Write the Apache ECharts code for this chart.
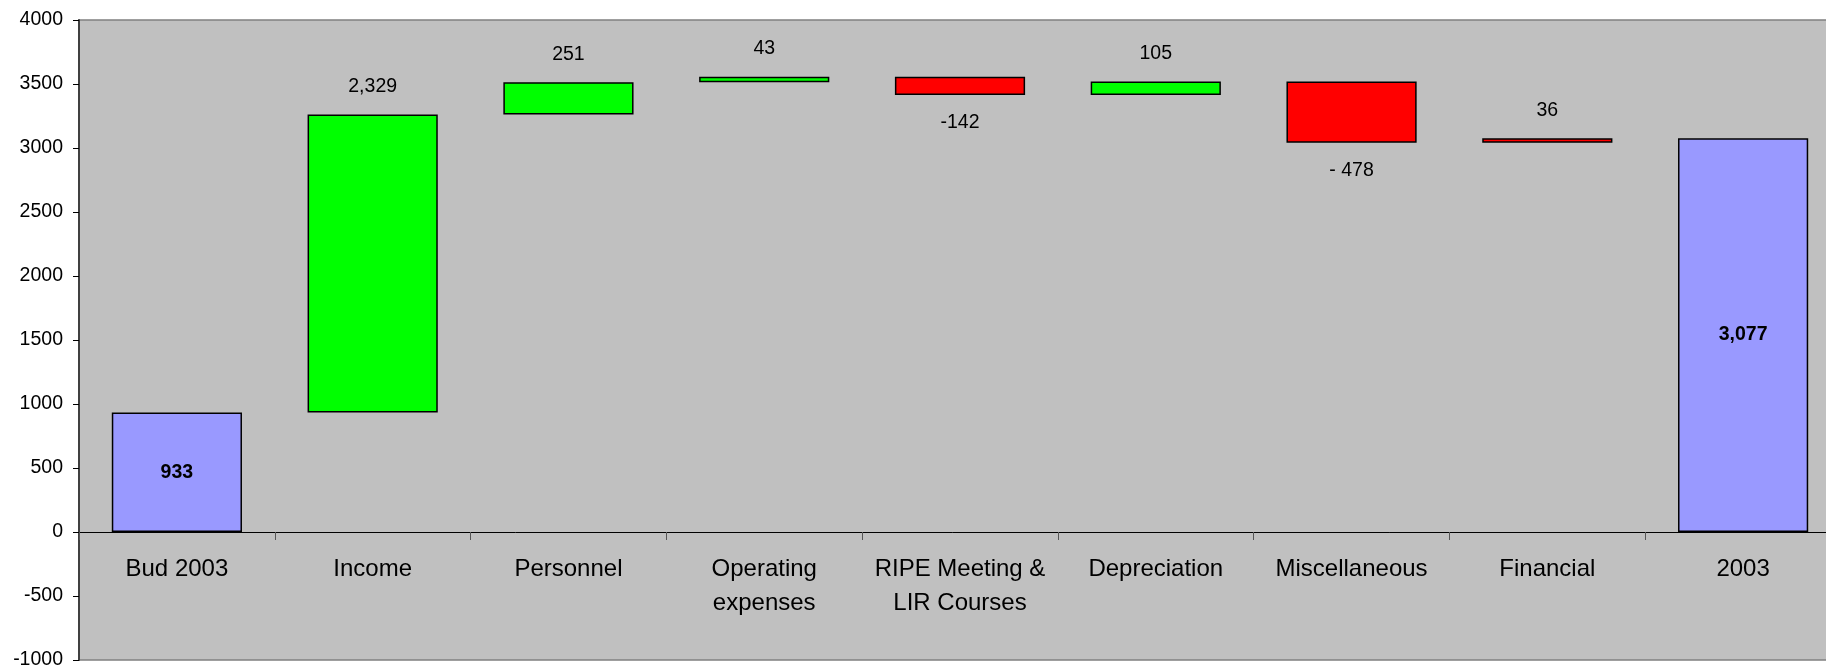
<!DOCTYPE html>
<html>
<head>
<meta charset="utf-8">
<script src="https://cdn.jsdelivr.net/npm/echarts@6/dist/echarts.min.js"></script>
<style>
  html, body { margin: 0; padding: 0; background: #ffffff; }
  #chart { width: 1826px; height: 665px; }
</style>
</head>
<body>
<div id="chart"></div>
<script>
// ---- data ----
const categories = ['Bud 2003', 'Income', 'Personnel', 'Operating\nexpenses', 'RIPE Meeting &\nLIR Courses', 'Depreciation', 'Miscellaneous', 'Financial', '2003'];
const deltas = [933, 2329, 251, 43, -142, 105, -478, 36, 3077];
const kinds = ['total', 'gain', 'gain', 'gain', 'loss', 'gain', 'loss', 'loss', 'total'];
const labelTexts = ['933', '2,329', '251', '43', '-142', '105', '- 478', '36', '3,077'];
const yTicks = { min: -1000, max: 4000, interval: 500 };

// ---- build waterfall (base + visible segment) ----
const kindColor = { total: '#9999FF', gain: '#00FF00', loss: '#FF0000' };
const baseData = [];
const barData = [];
let running = 0;
deltas.forEach(function (d, i) {
  let base, height, pos;
  if (kinds[i] === 'total') {
    base = 0; height = d; running = d; pos = 'inside';
  } else {
    const start = running, end = running + d;
    base = Math.min(start, end);
    height = Math.abs(d);
    running = end;
    pos = d >= 0 ? 'top' : 'bottom';
  }
  baseData.push(base);
  barData.push({
    value: height,
    itemStyle: { color: kindColor[kinds[i]] },
    label: {
      position: pos,
      fontWeight: kinds[i] === 'total' ? 'bold' : 'normal'
    }
  });
});

// layout of the plot area (pixels)
const GRID_TOP = 20, GRID_BOTTOM = 5, CHART_H = 665;
const plotH = CHART_H - GRID_TOP - GRID_BOTTOM;
// distance from the plot's bottom edge up to the value 0
const zeroOffset = plotH * (0 - yTicks.min) / (yTicks.max - yTicks.min);

const FONT = "'Liberation Sans', Arial, sans-serif";
const chart = echarts.init(document.getElementById('chart'));
chart.setOption({
  animation: false,
  backgroundColor: '#ffffff',
  grid: {
    left: 79, right: -15, top: GRID_TOP, bottom: GRID_BOTTOM,
    outerBoundsMode: 'none',
    containLabel: false,
    show: true,
    backgroundColor: '#C0C0C0',
    borderColor: '#808080',
    borderWidth: 1.5
  },
  xAxis: {
    type: 'category',
    data: categories,
    position: 'bottom',
    offset: -zeroOffset,
    axisLine: { onZero: false, lineStyle: { color: '#000000', width: 1 } },
    axisTick: { show: true, length: 8, lineStyle: { color: '#555555', width: 1 } },
    axisLabel: {
      interval: 0,
      margin: 20,
      fontSize: 24,
      lineHeight: 34,
      color: '#000000',
      fontFamily: FONT
    },
    splitLine: { show: false }
  },
  yAxis: {
    type: 'value',
    min: yTicks.min,
    max: yTicks.max,
    interval: yTicks.interval,
    axisLine: { show: true, onZero: false, lineStyle: { color: '#404040', width: 2 } },
    axisTick: { show: true, length: 6, lineStyle: { color: '#000000', width: 1 } },
    axisLabel: {
      margin: 16, fontSize: 19.5, color: '#000000', fontFamily: FONT,
      formatter: function (v) { return String(v); }
    },
    splitLine: { show: false }
  },
  series: [{
    type: 'bar',
    stack: 'wf',
    data: baseData,
    barWidth: '66.5%',
    itemStyle: { color: 'transparent', borderWidth: 0 },
    emphasis: { disabled: true },
    silent: true
  }, {
    type: 'bar',
    stack: 'wf',
    data: barData,
    barWidth: '66.5%',
    itemStyle: { borderColor: '#000000', borderWidth: 1.5 },
    label: {
      show: true,
      distance: 18,
      fontSize: 19.5,
      color: '#000000',
      fontFamily: FONT,
      formatter: function (p) { return labelTexts[p.dataIndex]; }
    }
  }]
});
</script>
</body>
</html>
